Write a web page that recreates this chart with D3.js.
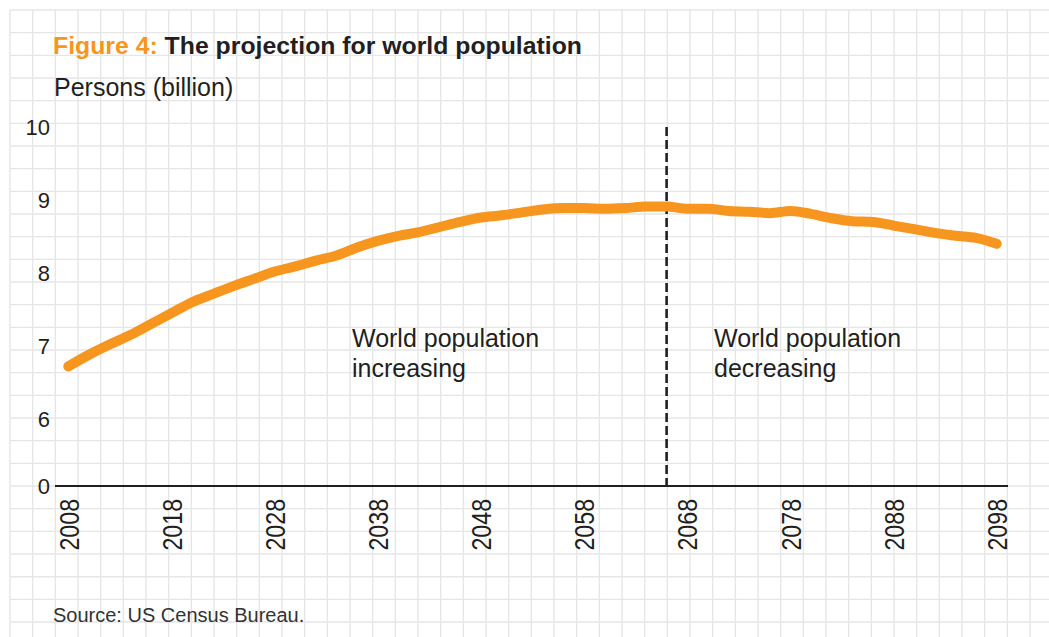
<!DOCTYPE html>
<html>
<head>
<meta charset="utf-8">
<script src="https://cdn.jsdelivr.net/npm/d3@7"></script>
<style>
  html, body { margin: 0; padding: 0; background: #ffffff; }
  svg { display: block; }
  text { font-family: "Liberation Sans", Arial, Helvetica, sans-serif; fill: #231f20; }
</style>
</head>
<body>
<div id="chart"></div>
<script>
// ---- Data ----
const years = [2008, 2010, 2012, 2014, 2016, 2018, 2020, 2022, 2024, 2026, 2028, 2030,
  2032, 2034, 2036, 2038, 2040, 2042, 2044, 2046, 2048, 2050, 2052, 2054, 2056, 2058,
  2060, 2062, 2064, 2066, 2068, 2070, 2072, 2074, 2076, 2078, 2080, 2082, 2084, 2086,
  2088, 2090, 2092, 2094, 2096, 2098];
const population = [6.72, 6.88, 7.02, 7.15, 7.30, 7.45, 7.60, 7.71, 7.82, 7.92, 8.02, 8.09,
  8.17, 8.24, 8.35, 8.44, 8.51, 8.56, 8.63, 8.70, 8.76, 8.79, 8.83, 8.87, 8.89, 8.89,
  8.88, 8.89, 8.91, 8.91, 8.88, 8.88, 8.85, 8.84, 8.82, 8.85, 8.81, 8.75, 8.71, 8.70,
  8.65, 8.60, 8.55, 8.51, 8.48, 8.40];
const xTicks = [2008, 2018, 2028, 2038, 2048, 2058, 2068, 2078, 2088, 2098];
const yTicks = [0, 6, 7, 8, 9, 10];
const peakYear = 2066;
const titleLead = "Figure 4:";
const titleText = "The projection for world population";
const yTitle = "Persons (billion)";
const sourceText = "Source: US Census Bureau.";
const noteLeft = ["World population", "increasing"];
const noteRight = ["World population", "decreasing"];

// ---- Layout ----
const W = 1049, H = 637;
const orange = "#f7961f";
const ink = "#231f20";

const svg = d3.select("#chart").append("svg").attr("width", W).attr("height", H);

// graph-paper grid
const gridStep = 22.667;
const grid = svg.append("g").attr("stroke", "#e6e6e6").attr("stroke-width", 1.4);
for (let x = 10; x <= W; x += gridStep) {
  grid.append("line").attr("x1", x).attr("x2", x).attr("y1", 10).attr("y2", H);
}
for (let y = 10; y <= H; y += gridStep) {
  grid.append("line").attr("x1", 10).attr("x2", W).attr("y1", y).attr("y2", y);
}

// scales (broken y axis: 0, then 6..10)
const x = d3.scaleLinear().domain([2008, 2098]).range([68.3, 996.7]);
const y = d3.scaleLinear().domain([0, 6, 10]).range([486, 419, 127]);

// title
const title = svg.append("text").attr("x", 53).attr("y", 54)
  .style("font-size", "24.8px").style("font-weight", "bold");
title.append("tspan").text(titleLead).style("fill", orange);
title.append("tspan").text(" " + titleText).style("fill", ink);

svg.append("text").attr("x", 54).attr("y", 96)
  .style("font-size", "25px").text(yTitle);

// y axis labels
const yAxis = d3.axisLeft(y).tickValues(yTicks).tickSize(0).tickPadding(0)
  .tickFormat(d3.format("d"));
const gy = svg.append("g").attr("transform", "translate(50,0)").call(yAxis);
gy.select(".domain").remove();
gy.selectAll("text").style("font-size", "22px").style("fill", ink)
  .style("font-family", "\"Liberation Sans\", Arial, Helvetica, sans-serif")
  .attr("dy", "0.36em");

// x axis line
svg.append("line").attr("x1", 55).attr("x2", 1008)
  .attr("y1", y(0)).attr("y2", y(0))
  .attr("stroke", ink).attr("stroke-width", 2);

// x axis labels (rotated)
const xAxis = d3.axisBottom(x).tickValues(xTicks).tickSize(0).tickFormat(d3.format("d"));
const gx = svg.append("g").attr("transform", `translate(0,${y(0)})`).call(xAxis);
gx.select(".domain").remove();
gx.selectAll(".tick text")
  .attr("transform", "rotate(-90) scale(0.86,1)")
  .attr("x", -15).attr("y", 0).attr("dy", "0.36em")
  .style("text-anchor", "end").style("font-size", "27px").style("fill", ink)
  .style("font-family", "\"Liberation Sans\", Arial, Helvetica, sans-serif");

// dashed peak line
svg.append("line").attr("x1", x(peakYear)).attr("x2", x(peakYear))
  .attr("y1", y(10)).attr("y2", y(0))
  .attr("stroke", ink).attr("stroke-width", 2.6).attr("stroke-dasharray", "9,4");

// annotations
function note(lines, xp) {
  const t = svg.append("text").attr("x", xp).attr("y", 346.5).style("font-size", "25px");
  lines.forEach((l, i) => t.append("tspan").attr("x", xp).attr("dy", i === 0 ? 0 : 30).text(l));
}
note(noteLeft, 352);
note(noteRight, 714);

// population line
const data = years.map((yr, i) => ({ yr, v: population[i] }));
svg.append("path").datum(data)
  .attr("fill", "none").attr("stroke", orange).attr("stroke-width", 10)
  .attr("stroke-linecap", "round").attr("stroke-linejoin", "round")
  .attr("d", d3.line().x(d => x(d.yr)).y(d => y(d.v)).curve(d3.curveMonotoneX));

// source
svg.append("text").attr("x", 53).attr("y", 622).style("font-size", "20px").style("fill", "#333")
  .text(sourceText);
</script>
</body>
</html>
